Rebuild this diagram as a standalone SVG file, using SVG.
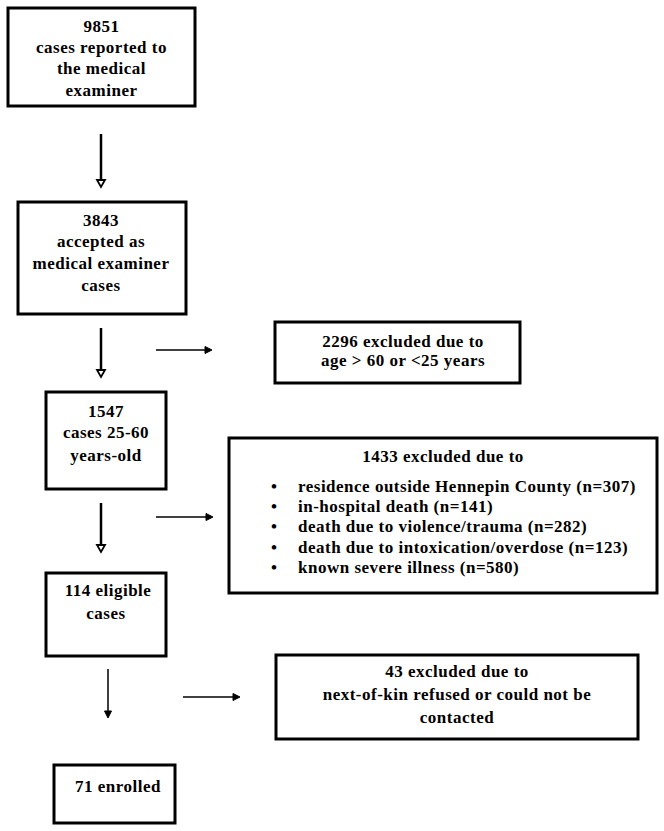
<svg xmlns="http://www.w3.org/2000/svg" width="664" height="831" viewBox="0 0 664 831">
<style>
.box{fill:#fff;stroke:#000;stroke-width:3}
text{font-family:"Liberation Serif","Times New Roman",serif;font-weight:bold;font-size:17px;letter-spacing:0.5px;fill:#000}
.c{text-anchor:middle}
.thick{stroke:#000;stroke-width:2.5;fill:none}
.thin{stroke:#000;stroke-width:1.5;fill:none}
.hv{fill:#fff;stroke:#000;stroke-width:1.8}
.hf{fill:#000;stroke:#000;stroke-width:1}
</style>
<rect width="664" height="831" fill="#fff"/>
<g id="n1">
<rect class="box" x="8" y="8" width="187" height="98"/>
<text class="c" x="101.5" y="32">9851</text>
<text class="c" x="101.5" y="53">cases reported to</text>
<text class="c" x="101.5" y="74">the medical</text>
<text class="c" x="101.5" y="96">examiner</text>
</g>
<g id="n2">
<rect class="box" x="18" y="202" width="168" height="112"/>
<text class="c" x="101" y="226">3843</text>
<text class="c" x="101" y="247">accepted as</text>
<text class="c" x="101" y="269">medical examiner</text>
<text class="c" x="101" y="291">cases</text>
</g>
<g id="n3">
<rect class="box" x="275" y="322" width="245" height="61"/>
<text class="c" x="403" y="347">2296 excluded due to</text>
<text class="c" x="403" y="366">age &gt; 60 or &lt;25 years</text>
</g>
<g id="n4">
<rect class="box" x="46" y="392" width="120" height="97"/>
<text class="c" x="106" y="417">1547</text>
<text class="c" x="106" y="438">cases 25-60</text>
<text class="c" x="106" y="461">years-old</text>
</g>
<g id="n5">
<rect class="box" x="46" y="573" width="120" height="83"/>
<text class="c" x="108" y="596">114 eligible</text>
<text class="c" x="106" y="619">cases</text>
</g>
<g id="n6">
<rect class="box" x="229" y="438" width="428" height="155"/>
<text class="c" x="443" y="462">1433 excluded due to</text>
<g font-size="14">
<text x="271" y="492">•</text>
<text x="271" y="512">•</text>
<text x="271" y="532">•</text>
<text x="271" y="553">•</text>
<text x="271" y="573">•</text>
</g>
<text x="298" y="492">residence outside Hennepin County (n=307)</text>
<text x="298" y="512">in-hospital death (n=141)</text>
<text x="298" y="532">death due to violence/trauma (n=282)</text>
<text x="298" y="553">death due to intoxication/overdose (n=123)</text>
<text x="298" y="573">known severe illness (n=580)</text>
</g>
<g id="n7">
<rect class="box" x="276" y="655" width="362" height="84"/>
<text class="c" x="457" y="677">43 excluded due to</text>
<text class="c" x="457" y="700">next-of-kin refused or could not be</text>
<text class="c" x="457" y="723">contacted</text>
</g>
<g id="n8">
<rect class="box" x="54" y="765" width="121" height="58"/>
<text x="75" y="792">71 enrolled</text>
</g>
<g id="connectors">
<line class="thick" x1="101" y1="134" x2="101" y2="180"/>
<polygon class="hv" points="97,180 105,180 101,187"/>
<line class="thick" x1="101" y1="328" x2="101" y2="370"/>
<polygon class="hv" points="97,370 105,370 101,377"/>
<line class="thick" x1="101" y1="503" x2="101" y2="545"/>
<polygon class="hv" points="97,545 105,545 101,552"/>
<line class="thin" x1="108" y1="669" x2="108" y2="711"/>
<polygon class="hf" points="104.5,711 111.5,711 108,718"/>
<line class="thin" x1="156" y1="350" x2="206" y2="350"/>
<polygon class="hf" points="205,346.5 205,353.5 212,350"/>
<line class="thin" x1="156" y1="517" x2="207" y2="517"/>
<polygon class="hf" points="206,513.5 206,520.5 213,517"/>
<line class="thin" x1="183" y1="697" x2="234" y2="697"/>
<polygon class="hf" points="233,693.5 233,700.5 240,697"/>
</g>
</svg>
